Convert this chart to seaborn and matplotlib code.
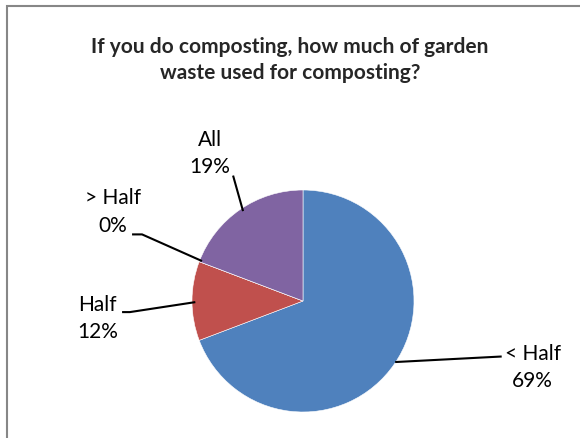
import matplotlib
matplotlib.use("Agg")
import matplotlib.pyplot as plt
import seaborn as sns
from matplotlib.patches import Rectangle

# data
categories = ["< Half", "Half", "> Half", "All"]
counts = [18, 3, 0, 5]
pct_labels = ["69%", "12%", "0%", "19%"]
colors = ["#4F81BD", "#C0504D", "#9BBB59", "#8064A2"]

sns.set_theme(style="white")
plt.rcParams["font.family"] = ["Lato", "DejaVu Sans"]

W, H = 580, 439
fig = plt.figure(figsize=(W / 100, H / 100), dpi=100)
fig.patch.set_facecolor("white")

# chart frame
fig.patches.append(Rectangle((7 / W, -0.1), 1.2, 1 - 7 / H + 0.1, transform=fig.transFigure,
                             fill=False, edgecolor="#878787", linewidth=1.5))

# pie centre (303, 302) px, radius 111 px
cx, cy, r = 303, 302, 111
ax = fig.add_axes([(cx - r) / W, (H - cy - r) / H, 2 * r / W, 2 * r / H])
ax.pie(counts, colors=colors, startangle=90, counterclock=False, radius=1,
       wedgeprops=dict(edgecolor="white", linewidth=0.4))
ax.set_xlim(-1, 1)
ax.set_ylim(-1, 1)
ax.axis("off")

# label positions and leader lines (in pie radius units)
label_pos = [(2.07, -0.59), (-1.85, -0.15), (-1.71, 0.81), (-0.84, 1.34)]
leaders = [
    [(0.83, -0.55), (1.79, -0.50)],
    [(-1.63, -0.10), (-1.56, -0.10), (-0.97, -0.01)],
    [(-1.54, 0.60), (-1.45, 0.60), (-0.91, 0.36)],
    [(-0.63, 1.13), (-0.54, 0.81)],
]
for cat, pct, (lx, ly), pts in zip(categories, pct_labels, label_pos, leaders):
    ax.text(lx, ly, f"{cat}\n{pct}", ha="center", va="center", fontsize=15,
            linespacing=1.45, color="black", clip_on=False)
    xs, ys = zip(*pts)
    ax.plot(xs, ys, color="black", linewidth=1.5, clip_on=False,
            solid_capstyle="butt")

fig.text(290 / W, 1 - 60 / H, "If you do composting, how much of garden\nwaste used for composting?",
         ha="center", va="center", fontsize=15, fontweight="bold", linespacing=1.32)

fig.savefig("out.png", dpi=100)
